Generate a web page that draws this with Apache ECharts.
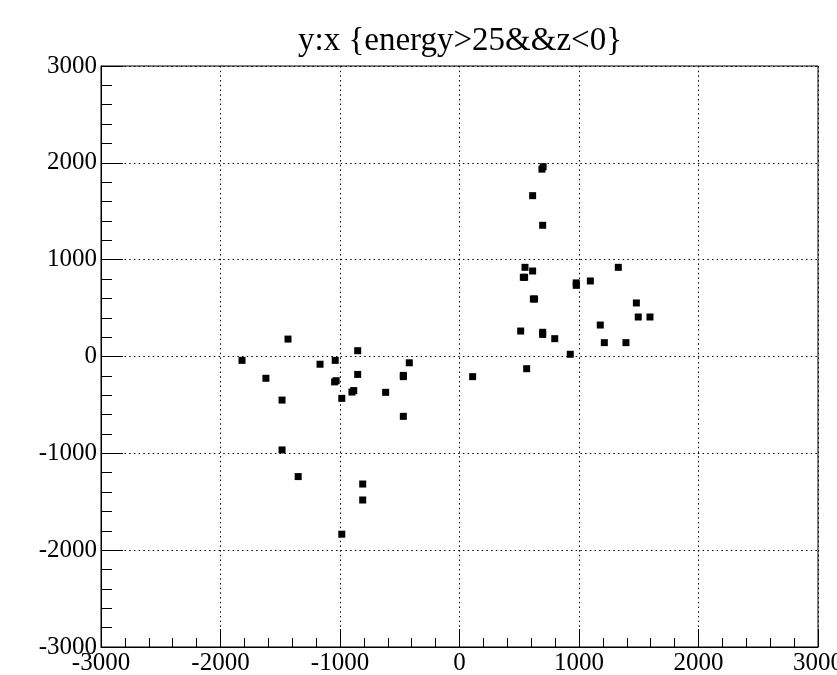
<!DOCTYPE html>
<html>
<head>
<meta charset="utf-8">
<script src="https://cdn.jsdelivr.net/npm/echarts@6/dist/echarts.min.js"></script>
<style>
  html, body { margin: 0; padding: 0; background: #fff; }
  #chart { width: 837px; height: 675px; }
</style>
</head>
<body>
<div id="chart"></div>
<script>
// Hit positions for energy > 25 and z < 0
const xValues = [
  -1820, -1620, -1435, -1485, -1485, -1350, -1167, -1040, -1045, -1032,
  -985, -985, -900, -885, -852, -852, -810, -810, -618, -470, -470, -420,
  -470, 110,
  700, 690, 612, 696, 548, 612, 534, 545, 977, 977, 1095, 1329, 618, 628,
  1480, 1496, 1594, 1178, 512, 696, 696, 797, 1212, 1393, 927, 562
];
const yValues = [
  -40, -225, 180, -450, -965, -1240, -80, -40, -262, -250,
  -432, -1835, -367, -352, 60, -185, -1317, -1482, -370, -195, -208, -65,
  -618, -208,
  1960, 1935, 1661, 1355, 921, 883, 818, 818, 760, 735, 780, 921, 594, 594,
  553, 408, 408, 325, 263, 250, 228, 184, 143, 143, 23, -126
];
const axisTicks = [-3000, -2000, -1000, 0, 1000, 2000, 3000];
const titleText = 'y:x {energy>25&&z<0}';

const points = xValues.map((x, i) => [x, yValues[i]]);
const labelFont = {
  color: '#000',
  fontFamily: '"Liberation Serif", "DejaVu Serif", serif',
  fontSize: 25,
  formatter: v => String(v)
};
const dotted = { color: '#000', width: 1, type: [1.5, 3.2] };

function axisCommon(tickLen) {
  return {
    type: 'value',
    min: axisTicks[0],
    max: axisTicks[axisTicks.length - 1],
    interval: axisTicks[1] - axisTicks[0],
    axisLine: { show: true, onZero: false, lineStyle: { color: '#000', width: 1 } },
    axisTick: { show: true, inside: true, length: tickLen, lineStyle: { color: '#000', width: 1 } },
    minorTick: { show: true, splitNumber: 5, length: tickLen / 2, lineStyle: { color: '#000', width: 1 } },
    splitLine: { show: true, lineStyle: dotted },
    minorSplitLine: { show: false }
  };
}

const chart = echarts.init(document.getElementById('chart'), null, { renderer: 'canvas' });
chart.setOption({
  animation: false,
  backgroundColor: '#fff',
  title: {
    text: titleText,
    left: 455,
    top: 20,
    textAlign: 'center',
    textStyle: {
      color: '#000',
      fontFamily: '"Liberation Serif", "DejaVu Serif", serif',
      fontWeight: 'normal',
      fontSize: 33
    }
  },
  grid: {
    left: 101, right: 19, top: 66, bottom: 28,
    containLabel: false,
    outerBoundsMode: 'none',
    show: true, borderColor: '#000', borderWidth: 1, backgroundColor: 'transparent'
  },
  xAxis: Object.assign(axisCommon(18), {
    axisLabel: Object.assign({ margin: 4 }, labelFont)
  }),
  yAxis: Object.assign(axisCommon(22), {
    axisLabel: Object.assign({ margin: 4 }, labelFont)
  }),
  series: [{
    type: 'scatter',
    data: points,
    symbol: 'rect',
    symbolSize: 7,
    itemStyle: { color: '#000', opacity: 1 }
  }]
});
</script>
</body>
</html>
